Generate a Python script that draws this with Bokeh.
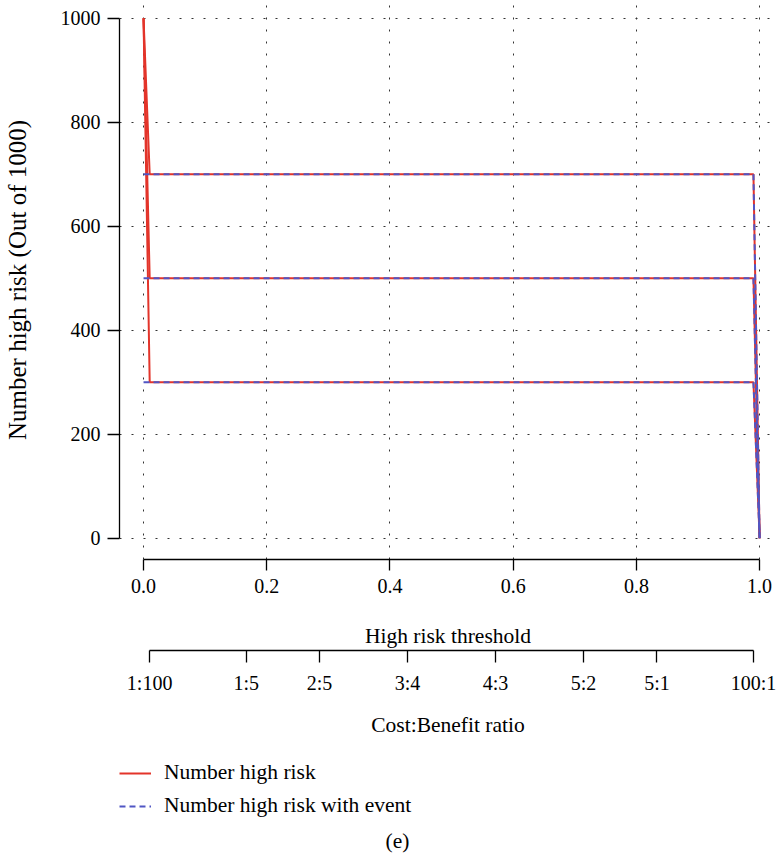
from bokeh.plotting import figure
from bokeh.layouts import column
from bokeh.models import (Range1d, FixedTicker, LinearAxis, Legend, LegendItem,
                          Label, PrintfTickFormatter)
from bokeh.embed import file_html
from bokeh.resources import INLINE

# ---------------- data ----------------
thresholds = [0.0, 0.01, 0.99, 1.0]

high_risk_700 = [1000, 700, 700, 0]
high_risk_500 = [1000, 500, 500, 0]
high_risk_300 = [1000, 300, 300, 0]

with_event_700 = [700, 700, 700, 0]
with_event_500 = [500, 500, 500, 0]
with_event_300 = [300, 300, 300, 0]

x_ticks = [0.0, 0.2, 0.4, 0.6, 0.8, 1.0]
y_ticks = [0, 200, 400, 600, 800, 1000]

cb_cost = [1, 1, 2, 3, 4, 5, 5, 100]
cb_benefit = [100, 5, 5, 4, 3, 2, 1, 1]
cb_labels = ["1:100", "1:5", "2:5", "3:4", "4:3", "5:2", "5:1", "100:1"]

legend_labels = ["Number high risk", "Number high risk with event"]
panel_label = "(e)"

# ---------------- style ----------------
FONT = "Liberation Serif"
RED = "#E3342A"
BLUE = "#5056C4"
DASH = "6 4"
NAN = float("nan")

p = figure(width=776, height=745,
           x_range=Range1d(-0.039, 1.0274), y_range=Range1d(-41, 1034),
           output_backend="svg", toolbar_location=None,
           min_border_left=118, min_border_right=0, min_border_top=0,
           min_border_bottom=186)
p.outline_line_color = None
p.background_fill_color = "white"

for g in (p.xgrid[0], p.ygrid[0]):
    g.grid_line_color = "#333333"
    g.grid_line_dash = "2 10"
    g.grid_line_width = 1
p.xgrid[0].ticker = FixedTicker(ticks=x_ticks)
p.ygrid[0].ticker = FixedTicker(ticks=y_ticks)

for ys in (high_risk_700, high_risk_500, high_risk_300):
    p.line(thresholds, ys, line_color=RED, line_width=2)
for ys in (with_event_700, with_event_500, with_event_300):
    p.line(thresholds, ys, line_color=BLUE, line_width=2, line_dash=DASH)


def style_axis(ax):
    ax.axis_line_color = "black"
    ax.axis_line_width = 1.3
    ax.major_tick_line_color = "black"
    ax.major_tick_line_width = 1.3
    ax.major_tick_in = 0
    ax.minor_tick_in = 0
    ax.minor_tick_out = 0
    ax.major_label_text_font = FONT
    ax.major_label_text_font_size = "20px"
    ax.major_label_text_color = "black"
    ax.axis_label_text_font = FONT
    ax.axis_label_text_font_size = "21.5px"
    ax.axis_label_text_font_style = "normal"
    ax.axis_label_text_color = "black"


xax = p.xaxis[0]
style_axis(xax)
xax.ticker = FixedTicker(ticks=x_ticks)
xax.formatter = PrintfTickFormatter(format="%.1f")
xax.bounds = (x_ticks[0], x_ticks[-1])
xax.major_tick_out = 11
xax.major_label_standoff = 8
xax.axis_label = "High risk threshold"
xax.axis_label_standoff = 28

yax = p.yaxis[0]
style_axis(yax)
yax.ticker = FixedTicker(ticks=y_ticks)
yax.bounds = (y_ticks[0], y_ticks[-1])
yax.major_tick_out = 12
yax.major_label_standoff = 7
yax.axis_label = "Number high risk (Out of 1000)"
yax.axis_label_text_font_size = "25px"
yax.axis_label_standoff = 27

cb_ticks = [c / (c + b) for c, b in zip(cb_cost, cb_benefit)]
cbax = LinearAxis(ticker=FixedTicker(ticks=cb_ticks),
                  major_label_overrides={t: l for t, l in zip(cb_ticks, cb_labels)},
                  bounds=(cb_ticks[0], cb_ticks[-1]),
                  axis_label="Cost:Benefit ratio")
style_axis(cbax)
cbax.major_tick_out = 12
cbax.major_label_standoff = 9
cbax.axis_label_standoff = 16
p.add_layout(cbax, "below")

# ---------------- legend strip ----------------
p2 = figure(width=776, height=111, x_range=Range1d(0, 1), y_range=Range1d(0, 1),
            output_backend="svg", toolbar_location=None,
            x_axis_location=None, y_axis_location=None,
            min_border_left=0, min_border_right=0, min_border_top=0,
            min_border_bottom=0)
p2.outline_line_color = None
p2.grid.visible = False

# legend proxies (no visible data)
r_red = p2.line([NAN, NAN], [NAN, NAN], line_color=RED, line_width=2)
r_blue = p2.line([NAN, NAN], [NAN, NAN], line_color=BLUE, line_width=2,
                 line_dash=DASH)

legend = Legend(items=[LegendItem(label=legend_labels[0], renderers=[r_red]),
                       LegendItem(label=legend_labels[1], renderers=[r_blue])],
                location=(0, 38), orientation="vertical")
legend.label_text_font = FONT
legend.label_text_font_size = "21.5px"
legend.label_text_color = "black"
legend.glyph_width = 32
legend.glyph_height = 20
legend.label_standoff = 13
legend.padding = 2
legend.margin = 0
legend.spacing = 8
legend.border_line_color = None
legend.background_fill_alpha = 0
p2.add_layout(legend)

p2.add_layout(Label(x=278, y=16, x_units="screen", y_units="screen",
                    text=panel_label, text_font=FONT, text_font_size="21.5px",
                    text_color="black", text_align="center",
                    text_baseline="middle"))

open("out.html", "w").write(file_html(column(p, p2, spacing=0), INLINE))
